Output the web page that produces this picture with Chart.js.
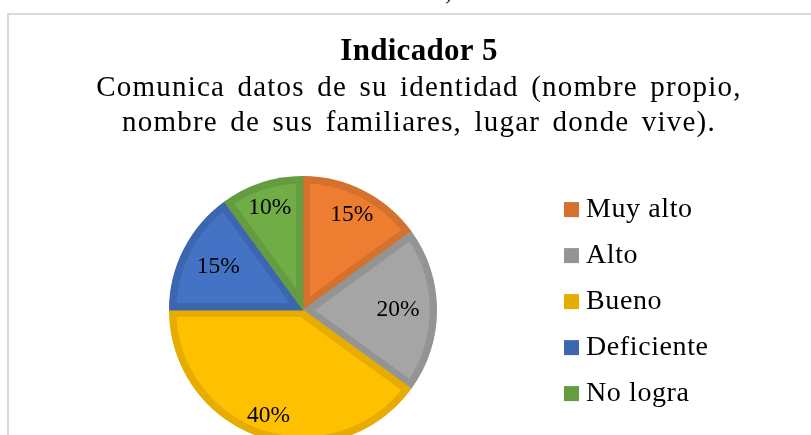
<!DOCTYPE html>
<html><head><meta charset="utf-8">
<script src="https://cdn.jsdelivr.net/npm/chart.js@4.4.1/dist/chart.umd.min.js"></script>
<style>
html,body{margin:0;padding:0;background:#fff;overflow:hidden;width:811px;height:435px;}
#frame{position:absolute;left:7px;top:13px;width:824px;height:480px;border:2px solid #d9d9d9;box-sizing:border-box;}
#wrap{position:absolute;left:0;top:0;width:820px;height:460px;}
#frag{position:absolute;left:445px;top:-23px;font:26px "Liberation Serif",serif;color:#000;line-height:30px;}
</style></head><body>
<div id="frag">,</div>
<div id="frame"><div id="wrap"><canvas id="c"></canvas></div></div>
<script>
const categories = ['Muy alto', 'Alto', 'Bueno', 'Deficiente', 'No logra'];
const percentages = [15, 20, 40, 15, 10];
const titleText = 'Indicador 5';
const subtitleLines = ['Comunica datos de su identidad (nombre propio,', 'nombre de sus familiares, lugar donde vive).'];
const fillColors = ['#ED7D31', '#A5A5A5', '#FFC000', '#4472C4', '#70AD47'];
const edgeColors = ['#D4712D', '#949494', '#E7AC00', '#3D66B0', '#659C42'];

const SERIF = '"Liberation Serif", "Times New Roman", serif';
const labelRadial = [0.80, 0.71, 0.83, 0.71, 0.80];
const LEGEND_W = 232;

const pctLabels = {
  id: 'pctLabels',
  afterDatasetsDraw(chart) {
    const ctx = chart.ctx;
    const meta = chart.getDatasetMeta(0);
    const vals = chart.data.datasets[0].data;
    const total = vals.reduce((a, b) => a + b, 0);
    ctx.save();
    ctx.letterSpacing = '0px';
    ctx.wordSpacing = '0px';
    ctx.font = '23.5px ' + SERIF;
    ctx.fillStyle = '#000';
    ctx.textAlign = 'center';
    ctx.textBaseline = 'middle';
    meta.data.forEach((arc, i) => {
      const p = arc.getProps(['x', 'y', 'startAngle', 'endAngle', 'outerRadius'], true);
      const mid = (p.startAngle + p.endAngle) / 2;
      const r = p.outerRadius * labelRadial[i];
      ctx.fillText(Math.round(vals[i] / total * 100) + '%', p.x + Math.cos(mid) * r, p.y + Math.sin(mid) * r);
    });
    ctx.restore();
  }
};

const spacing = {
  id: 'spacing',
  beforeLayout(chart) {
    const lg = chart.legend;
    if (lg && !lg._fitWrapped) {
      const of = lg.fit;
      lg.fit = function (...a) { of.apply(this, a); this.width = LEGEND_W; };
      lg._fitWrapped = true;
    }
  },
  afterLayout(chart) {
    chart.boxes.forEach(b => {
      if (b._spWrapped) return;
      let ls = '0px', ws = '0px';
      if (b === chart.legend) ls = '0.6px';
      else if (b === chart.titleBlock) ls = '0.3px';
      else if (b.options && Array.isArray(b.options.text)) { ls = '1.2px'; ws = '4px'; }
      const orig = b.draw;
      b.draw = function (...a) {
        const ctx = chart.ctx;
        ctx.letterSpacing = ls;
        ctx.wordSpacing = ws;
        orig.apply(this, a);
        ctx.letterSpacing = '0px';
        ctx.wordSpacing = '0px';
      };
      b._spWrapped = true;
    });
  }
};

new Chart(document.getElementById('c'), {
  type: 'pie',
  data: {
    labels: categories,
    datasets: [{
      data: percentages,
      backgroundColor: fillColors,
      borderColor: edgeColors,
      hoverBackgroundColor: fillColors,
      hoverBorderColor: edgeColors,
      borderWidth: 7,
      hoverBorderWidth: 7,
      borderAlign: 'inner',
      borderJoinStyle: 'miter',
      hoverOffset: 0,
      radius: 134
    }]
  },
  options: {
    responsive: true,
    maintainAspectRatio: false,
    animation: false,
    devicePixelRatio: 1,
    events: [],
    layout: { padding: { left: 44, right: 44, top: 0, bottom: 0 } },
    plugins: {
      title: {
        display: true, text: titleText, color: '#000',
        font: { family: SERIF, size: 31, weight: 'bold', lineHeight: 1.1 },
        padding: { top: 20, bottom: 0 }
      },
      subtitle: {
        display: true, text: subtitleLines, color: '#000',
        font: { family: SERIF, size: 29, weight: 'normal', lineHeight: '35px' },
        padding: { top: 2, bottom: 4 }
      },
      legend: {
        position: 'right', align: 'start', fullSize: false,
        title: { display: true, text: '', padding: 0, font: { size: 10, lineHeight: '32.5px' } },
        labels: {
          color: '#000', font: { family: SERIF, size: 28 }, padding: 18,
          boxWidth: 1, boxHeight: 1,
          generateLabels: () => categories.map((c, i) => ({
            text: c, fillStyle: edgeColors[i], strokeStyle: edgeColors[i],
            lineWidth: 14, lineJoin: 'miter', lineCap: 'butt',
            hidden: false, index: i, fontColor: '#000'
          }))
        }
      },
      tooltip: { enabled: false }
    }
  },
  plugins: [pctLabels, spacing]
});
</script>
</body></html>
